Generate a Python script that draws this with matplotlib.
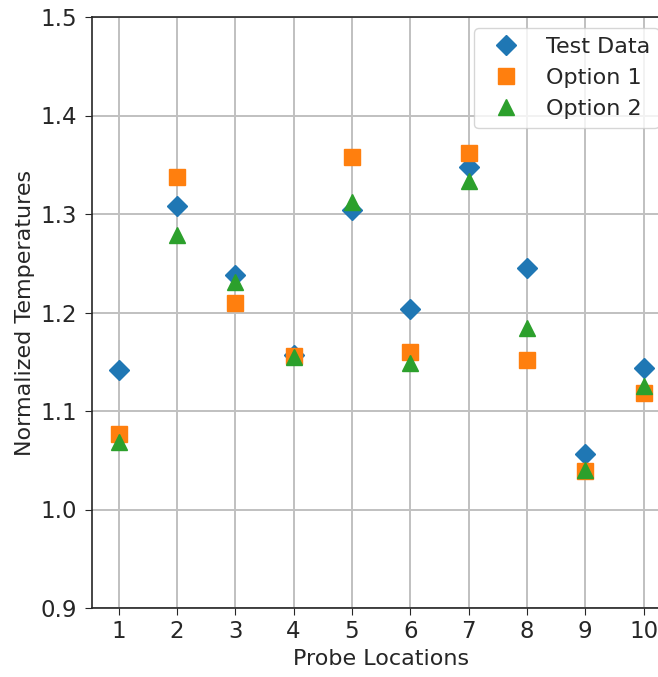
import matplotlib
matplotlib.use("Agg")
import matplotlib.pyplot as plt

# probe locations and normalized temperatures
locations = [1, 2, 3, 4, 5, 6, 7, 8, 9, 10]
test_data = [1.1415, 1.3085, 1.238, 1.157, 1.304, 1.2037, 1.348, 1.2456, 1.056, 1.144]
option_1 = [1.0764, 1.3375, 1.2096, 1.156, 1.358, 1.160, 1.3616, 1.152, 1.0386, 1.1187]
option_2 = [1.069, 1.279, 1.2306, 1.155, 1.312, 1.1485, 1.3335, 1.1847, 1.0396, 1.1253]
y_ticks = [0.9, 1.0, 1.1, 1.2, 1.3, 1.4, 1.5]

dark = '#262626'
plt.rcParams.update({
    'font.family': 'DejaVu Sans',
    'font.size': 16,
    'text.color': dark,
    'axes.labelcolor': dark,
    'axes.edgecolor': dark,
    'xtick.color': dark,
    'ytick.color': dark,
    'xtick.labelsize': 16.5,
    'ytick.labelsize': 16.5,
    'xtick.major.size': 5,
    'ytick.major.size': 5,
    'xtick.major.pad': 4,
    'ytick.major.pad': 6,
})

fig = plt.figure(figsize=(6.58, 6.77), dpi=100)
# axes reach a little past the right edge of the figure, as in the reference crop
ax = fig.add_axes([92.3 / 658, 69 / 677, 577.5 / 658, 591 / 677])

ax.plot(locations, test_data, 'D', color='#1f77b4', markersize=10.5, label='Test Data', zorder=3)
ax.plot(locations, option_1, 's', color='#ff7f0e', markersize=11, label='Option 1', zorder=3)
ax.plot(locations, option_2, '^', color='#2ca02c', markersize=11.5, label='Option 2', zorder=3)

ax.set_xlim(0.55, 10.45)
ax.set_ylim(0.9, 1.5)
ax.set_xticks(locations)
ax.set_yticks(y_ticks)
ax.set_yticklabels(['{:.1f}'.format(v) for v in y_ticks])
ax.grid(True, color='#c0c0c0', linewidth=1.4)
ax.set_axisbelow(True)
for s in ['left', 'bottom', 'top', 'right']:
    ax.spines[s].set_linewidth(1.2)

ax.set_xlabel('Probe Locations', fontsize=16)
ax.set_ylabel('Normalized Temperatures', fontsize=16)
ax.legend(loc='upper right', fontsize=16, framealpha=0.8, edgecolor='#cccccc')

plt.savefig('out.png', dpi=100)
